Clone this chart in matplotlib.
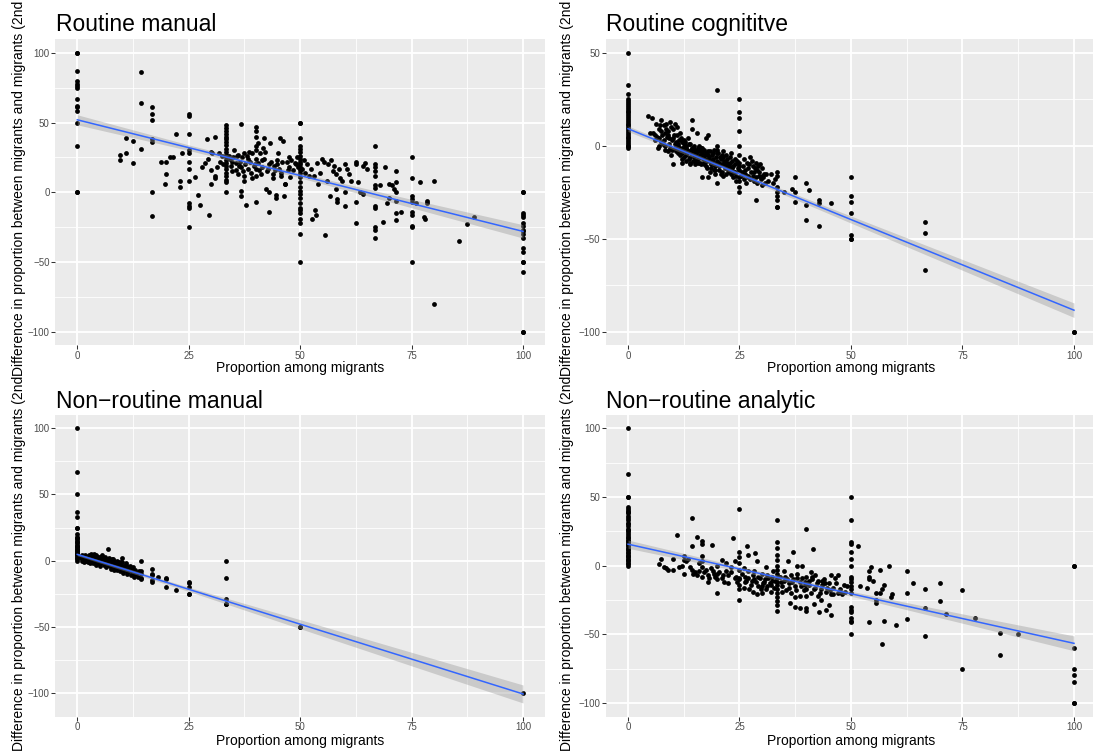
import numpy as np
import matplotlib
matplotlib.use("Agg")
import matplotlib.pyplot as plt

plt.rcParams["font.family"] = ["Liberation Sans", "DejaVu Sans"]

# ---------------------------------------------------------------------------
# Data: (proportion among migrants, difference in proportion) per occupation
# ---------------------------------------------------------------------------
titles = ["Routine manual", "Routine cognititve",
          "Non\u2212routine manual", "Non\u2212routine analytic"]
x_label = "Proportion among migrants"
y_label = "Difference in proportion between migrants and migrants (2nd"

x_ticks = [0, 25, 50, 75, 100]
y_ticks_tl = [-100, -50, 0, 50, 100]
y_ticks_tr = [-100, -50, 0, 50]
y_ticks_bl = [-100, -50, 0, 50, 100]
y_ticks_br = [-100, -50, 0, 50, 100]

# linear smooth (fit and 95% band half-width) at these x positions
smooth_x = [0, 25, 50, 75, 100]
fit_tl = [52.0, 32.0, 12.0, -8.1, -28.1]
band_tl = [3.6, 2.0, 1.7, 3.0, 4.8]
fit_tr = [9.2, -15.2, -39.7, -64.1, -88.5]
band_tr = [1.5, 1.0, 1.9, 2.9, 3.9]
fit_bl = [4.7, -21.65, -48.0, -74.35, -100.7]
band_bl = [1.0, 1.6, 3.4, 5.1, 6.8]
fit_br = [15.6, -2.45, -20.5, -38.55, -56.6]
band_br = [3.0, 1.7, 1.8, 3.4, 5.4]

routine_manual = [
    (0, 100), (0, 100), (0, 87), (0, 80), (0, 78), (0, 76), (0, 75), (0, 67), (0, 62),
    (0, 61), (0, 58), (0, 50), (0, 33), (0, 0), (0, 0),
    (9.5, 27), (9.5, 23), (11, 39), (11, 28), (12.5, 37), (12.5, 21), (14.3, 86),
    (14.3, 64), (14.3, 31), (16.7, 61), (16.7, 56), (16.7, 52), (16.7, 38), (16.7, 36),
    (16.7, 0), (16.7, -17), (18.8, 22), (19.6, 6), (20, 22), (20, 13), (20.8, 25),
    (21.4, 25), (22.2, 42), (23, 8), (23, 4), (23.5, 28),
    (25, 56), (25, 55), (25, 42), (25, 30), (25, 28), (25, 22), (25, 17), (25, 8),
    (25, -8), (25, -10), (25, -11), (25, -25),
    (26.5, 11), (27, -2), (27.5, -9), (28, 18), (28.6, 21), (29, 38), (29.4, 24),
    (29.6, -16), (30, 29), (30, 16), (30, 6), (30.3, 28), (30.8, 40), (30.8, 12),
    (31, 10), (31.3, 18), (31.8, 28), (32, 22), (32.5, 26), (32.8, 20),
    (33.3, 48), (33.3, 46), (33.3, 44), (33.3, 42), (33.3, 40), (33.3, 38), (33.3, 36),
    (33.3, 34), (33.3, 31), (33.3, 29), (33.3, 27), (33.3, 25), (33.3, 23), (33.3, 21),
    (33.3, 19), (33.3, 17), (33.3, 14), (33.3, 12), (33.3, 9), (33.3, 7), (33.3, 0),
    (34, 26), (34.2, 24), (34.5, 19), (34.8, 15), (35, 25), (35.2, 30), (35.5, 21),
    (35.7, 16), (36, 13), (36, 27), (36.4, 22), (36.8, 49), (36.8, 18), (36.8, 1),
    (36.8, -3), (37, 25), (37.3, 28), (37.5, 12), (37.5, 8), (37.6, 20), (37.9, -9),
    (38, 26), (38.2, 17), (38.5, 29), (38.8, 22), (39, 14), (39.3, 28), (39.6, 19),
    (40, 47), (40, 44), (40, 40), (40, 33), (40, 30), (40, 24), (40, 17), (40, 12),
    (40, -7), (40.5, 35), (40.5, 21), (40.8, 16), (41, 28), (41.2, 13), (41.5, 18),
    (41.7, 32), (42, 24), (42, 39), (42.3, 2), (42.8, 17), (43, 20), (43, 0), (43, -14),
    (43.3, 35), (43.5, 22), (43.8, 13), (44, 10), (44.4, 16), (44.5, -2), (44.5, -4),
    (44.8, 23), (45, 28), (45.2, 17), (45.5, 39), (45.8, 14), (46, 22), (46.2, 37),
    (46.4, -3), (46.5, 6), (46.7, 6), (47, 22), (47.4, 18), (47.8, 11), (48, 23),
    (48.5, 16), (49, 20), (49.3, 25), (49.6, 18),
    (34.6, 22), (35.9, 26), (37.2, 15), (38.4, 24), (39.8, 20), (41.4, 23), (42.6, 15),
    (44.1, 19), (45.6, 12), (47.2, 16), (48.8, 21), (36.2, 19), (39.1, 10), (42.2, 29),
    (44.9, 20), (47.6, 25),
    (50, 50), (50, 50), (50, 39), (50, 33), (50, 31), (50, 29), (50, 26), (50, 24),
    (50, 22), (50, 20), (50, 18), (50, 16), (50, 14), (50, 11), (50, 7), (50, 4),
    (50, 1), (50, -1), (50, -4), (50, -8), (50, -11), (50, -13), (50, -15), (50, -19),
    (50, -22), (50, -30), (50, -50),
    (50.5, 17), (50.8, 23), (51, 14), (51.5, 20), (52, 12), (52.5, 17), (52.7, -19),
    (53, 12), (53.3, -13), (53.5, -16), (53.8, 21), (54, 6), (54.5, 14), (55, 24),
    (55.3, 22), (55.6, -31), (56, 8), (56.3, 20), (56.8, -3), (57, 23), (57.4, 15),
    (57.7, 19), (58, 13), (58, 2), (58.3, -5), (58.3, -7), (58.8, 17), (59, 10),
    (59.4, 8), (60, 20), (60, 0), (60, -10), (60.5, 17), (61, 13), (61.5, 8),
    (62.5, 22), (62.5, 20), (62.5, -7), (62.5, -22), (63, 7), (63.5, 0), (64, 19),
    (64, -1), (64.5, 21), (65, 17),
    (66.7, 33), (66.7, 20), (66.7, 18), (66.7, 15), (66.7, 12), (66.7, 5), (66.7, 3),
    (66.7, -10), (66.7, -11), (66.7, -25), (66.7, -27), (66.7, -33),
    (68, 5), (68.5, -21), (69, 18), (69.5, -8), (70, 6), (70, -4), (70.5, 5), (71, 2),
    (71.4, 15), (71.4, 7), (71.4, 0), (71.4, -6), (71.4, -15), (71.4, -20), (72.7, -14),
    (75, 25), (75, 10), (75, -3), (75, -5), (75, -7), (75, -14), (75, -16), (75, -24),
    (75, -25), (75, -50),
    (76, -8), (76.9, 7), (77.8, -18), (78, -19), (78.5, -6), (78.5, -8), (80, 8),
    (80, -80), (85.7, -35), (87.5, -23), (88.9, -18),
    (100, 0), (100, 0), (100, -15), (100, -16), (100, -18), (100, -22), (100, -24),
    (100, -27), (100, -28), (100, -30), (100, -33), (100, -40), (100, -43), (100, -50),
    (100, -50), (100, -57), (100, -100), (100, -100),
]

routine_cognitive = [
    (0, 50), (0, 33), (0, 28), (0, 25), (0, 24), (0, 23), (0, 22), (0, 21), (0, 20),
    (0, 19), (0, 18), (0, 17), (0, 16), (0, 15), (0, 14), (0, 13), (0, 12), (0, 11),
    (0, 10), (0, 9), (0, 8), (0, 7), (0, 6), (0, 5), (0, 4), (0, 3), (0, 2), (0, 1),
    (0, 0), (0, 0), (0, -1),
    (4.5, 16), (5, 7), (5.5, 7), (6, 3), (6.3, 12), (6.6, 5), (7, 9), (7, 0), (7.3, 2),
    (7.5, 14), (7.7, 6), (8, 11), (8, 3), (8.2, -2), (8.5, 12), (8.7, 5), (9, -3), (9, 8),
    (9.2, 1), (9.5, 13), (9.7, -5), (10, 4), (10, -10), (10.2, 9), (10.5, 12), (10.5, -1),
    (10.8, 2), (11, 10), (11, 6), (11, -3), (11.3, 0), (11.5, 3), (11.8, -2), (12, -4),
    (12, 2), (12.3, -1), (12.5, -6), (12.5, 1), (12.7, -3), (13, -5), (13, 0), (13.3, -2),
    (13.5, 4), (13.7, -7), (14, -3), (14, 1), (14.3, 14), (14.3, 9), (14.3, -4),
    (14.5, -1), (14.8, -6), (15, -2), (15, -8), (15.3, -4), (15.4, 7), (15.6, -1),
    (15.8, -9), (16, -3), (16, -6), (16.3, -10), (16.5, -4), (16.7, -1), (16.7, -17),
    (16.9, -7), (17, -2), (17.2, -5), (17.5, -11), (17.6, 4), (17.8, -8), (18, 6),
    (18, -3), (18.2, -6), (18.5, -10), (18.7, -12), (19, -7), (19, -4), (19.3, -2),
    (19.5, -13), (19.7, -9), (20, 30), (20, 0), (20, -8), (20, -20), (20.3, -11),
    (20.6, -6), (21, -14), (21, -10), (21.3, -3), (21.5, -8), (21.8, -12), (22, -15),
    (22, -5), (22.3, -9), (22.6, -11), (23, -4), (23, -13), (23.3, -8), (23.6, -17),
    (24, -10), (24, -14), (24.3, -19), (24.6, -12),
    (5.3, 15), (6.8, -1), (7.4, 8), (8.4, 0), (8.9, 6), (9.4, -1), (9.8, 3), (10.4, 6),
    (10.7, -3), (11.2, 1), (11.6, -5), (11.9, 4), (12.2, -7), (12.6, 3), (12.9, -1),
    (13.2, -4), (13.6, 1), (13.9, -6), (14.2, -2), (14.6, -8), (14.9, 0), (15.2, -5),
    (15.5, -3), (15.8, -6), (16.1, -9), (16.4, -1), (16.8, -6), (17.1, -9), (17.4, -4),
    (17.7, -12), (18.1, -7), (18.4, -14), (18.8, -5), (19.1, -10), (19.4, -15),
    (19.8, -6), (20.2, -4), (20.5, -13), (20.9, -7), (21.2, -16), (21.6, -10),
    (22.1, -7), (22.4, -13), (22.8, -9), (23.2, -15), (23.5, -11), (23.9, -7),
    (24.2, -16), (24.7, -9), (12.4, -3), (13.1, -8), (15.1, -10), (16.2, -5),
    (17.3, -7), (18.6, -9), (19.6, -11), (21.4, -6), (22.7, -14), (11.4, -1),
    (6.1, 6), (6.9, 4), (7.9, 1), (8.6, 9), (9.3, 4), (9.9, -2), (10.6, 1), (11.1, -4),
    (11.7, 7), (12.1, -1), (12.8, 2), (13.4, -3), (13.8, -9), (14.4, -1), (14.7, -4),
    (15.6, -7), (16, 0), (16.6, -2), (17, -10), (17.9, -5), (18.3, -3), (18.9, -8),
    (19.2, -13), (19.9, -4), (20.4, -9), (20.8, -15), (21.1, -5), (21.7, -9),
    (22.2, -11), (22.9, -6), (23.4, -12), (23.8, -14), (24.4, -8), (24.9, -11),
    (20, -2), (18, -17), (14, -10), (12, -9), (9.6, 10), (8.2, 7), (7.2, 11),
    (25, 25), (25, 18), (25, 15), (25, 8), (25, 0), (25, -5), (25, -9), (25, -13),
    (25, -17), (25, -19), (25, -22), (25, -25),
    (25.5, -14), (25.8, -11), (26, -18), (26.3, -15), (26.6, -9), (27, -12), (27, -17),
    (27.3, -6), (27.6, -14), (28, -16), (28, -11), (28.3, -19), (28.6, -9), (28.6, -29),
    (29, -13), (29, -20), (29.3, -16), (29.6, -10), (30, -12), (30, -21), (30.5, -15),
    (26.2, -13), (26.8, -16), (27.2, -10), (27.8, -8), (28.2, -14), (28.8, -17),
    (29.2, -11), (29.8, -18), (30.3, -17), (31, -15), (31.5, -19),
    (25.3, -16), (25.9, -7), (26.4, -20), (27.4, -18), (28.4, -12), (29.4, -14),
    (30.1, -16), (30.7, -20),
    (32, -15), (32.5, -20), (33, -18), (33.3, -14), (33.3, -16), (33.3, -22), (33.3, -25),
    (33.3, -27), (33.3, -29), (33.3, -33), (33.3, -33), (35, -25), (36.8, -23),
    (37.5, -17), (37.5, -25), (37.5, -30), (40, -20), (40, -32), (40, -40), (40.5, -24),
    (42.9, -29), (42.9, -31), (42.9, -43), (45.5, -31),
    (50, -17), (50, -27), (50, -30), (50, -36), (50, -48), (50, -50), (50, -50),
    (66.7, -41), (66.7, -47), (66.7, -67), (100, -100), (100, -100),
]

nonroutine_manual = [
    (0, 100), (0, 67), (0, 50), (0, 37), (0, 33), (0, 25), (0, 25), (0, 20), (0, 18),
    (0, 17), (0, 16), (0, 15), (0, 14), (0, 13), (0, 12), (0, 11), (0, 10), (0, 10),
    (0, 9), (0, 8), (0, 8), (0, 7), (0, 6), (0, 6), (0, 5), (0, 5), (0, 4), (0, 4),
    (0, 3), (0, 2), (0, 1), (0, 0),
    (0.8, 2), (1, 4), (1, 0), (1.3, 3), (1.5, 1), (1.5, -1), (1.8, 4), (2, 2), (2, 0),
    (2.3, 3), (2.3, -1), (2.5, 1), (2.6, 4), (2.8, -2), (3, 2), (3, 5), (3.2, 0),
    (3.4, 3), (3.5, -2), (3.7, 1), (3.8, 5), (4, 2), (4, -1), (4.2, 4), (4.3, -3),
    (4.5, 1), (4.6, 3), (4.8, -2), (5, 0), (5, 3), (5.2, -4), (5.4, 2), (5.5, -1),
    (5.6, 4), (5.8, 1), (6, -3), (6, 0), (6.2, 3), (6.3, -2), (6.5, -5), (6.6, 1),
    (6.8, -1), (7, 9), (7, -3), (7.1, 2), (7.3, -4), (7.5, 0), (7.6, -6), (7.8, -2),
    (8, 1), (8, -4), (8.2, -7), (8.4, -1), (8.5, -3), (8.7, -5), (9, 0), (9, -7),
    (9.2, -2), (9.4, -5), (9.6, -8), (9.8, -3), (10, 2), (10, -1), (10, -6), (10.3, -9),
    (10.5, -4), (10.7, -7), (11, -2), (11.1, -10), (11.3, -6), (11.5, -8), (11.8, -4),
    (12, -11), (12.2, -6), (12.5, -9), (12.8, -12), (13, -7), (13.3, -9), (13.8, -8),
    (2.1, 1), (3.3, -1), (4.4, 0), (5.3, 1), (6.1, -1), (7.2, -2), (8.1, -3), (9.1, -4),
    (3.9, 3), (5.9, 2),
    (1.1, 2), (1.6, 3), (2.4, 0), (2.9, 3), (3.1, -1), (3.6, 4), (4.1, 1), (4.9, 2),
    (5.1, -2), (5.7, -1), (6.4, 0), (6.9, -2), (7.4, -1), (7.9, -4), (8.6, -2),
    (8.9, -6), (9.3, -1), (9.9, -5), (10.6, -6), (10.9, -3), (11.6, -5), (12.1, -7),
    (12.6, -5), (13.1, -10), (13.6, -12), (2.7, 2), (4.7, -1), (6.7, -3), (8.3, 0),
    (3.3, 4), (5.3, 3), (7.7, 1), (9.7, -1), (11.2, -8), (12.4, -10),
    (14.3, 0), (14.3, -8), (14.3, -10), (14.3, -13), (14.3, -14),
    (16.7, -6), (16.7, -10), (16.7, -11), (16.7, -15), (16.7, -16), (18.2, -12),
    (20, -13), (20, -14), (20, -20), (22.2, -22),
    (25, -16), (25, -17), (25, -20), (25, -25), (25, -25),
    (33.3, 0), (33.3, -13), (33.3, -29), (33.3, -33), (33.3, -33),
    (50, -50), (50, -50), (100, -100),
]

nonroutine_analytic = [
    (0, 100), (0, 67), (0, 50), (0, 50), (0, 43), (0, 41), (0, 40), (0, 39), (0, 38),
    (0, 36), (0, 35), (0, 33), (0, 31), (0, 30), (0, 29), (0, 27), (0, 26), (0, 25),
    (0, 24), (0, 22), (0, 21), (0, 20), (0, 19), (0, 18), (0, 17), (0, 16), (0, 15),
    (0, 14), (0, 13), (0, 12), (0, 11), (0, 10), (0, 9), (0, 8), (0, 7), (0, 6),
    (0, 5), (0, 4), (0, 3), (0, 2), (0, 1), (0, 0),
    (7, 1), (7.5, 5), (8, -1), (8.5, -2), (9, -3), (10, 5), (10, -3), (11, 22),
    (11.5, -1), (12, 0), (12.5, 7), (12.5, 4), (12.5, -6), (13, 3), (13.5, 5), (14, -1),
    (14.3, 35), (14.3, 14), (14.3, -3), (14.5, -6), (15, -5), (15.5, -7), (15.5, 21),
    (16, 2), (16, -4), (16.7, 18), (16.7, 16), (16.7, 7), (16.7, 3), (16.7, -1),
    (16.7, -8), (17, -5), (17.5, -3), (18, -12), (18, -7), (18.5, -2), (18.8, 15),
    (19, -4), (19.5, -8), (20, 0), (20, -6), (20, -10), (20, -20), (20.5, -5), (21, 4),
    (21, -9), (21.5, -12), (22, 2), (22, -4), (22.5, -7), (22.5, -13), (23, -1),
    (23.5, 20), (24, 3), (24, -9), (24.5, -12),
    (25, 41), (25, 10), (25, 6), (25, 2), (25, -3), (25, -9), (25, -10), (25, -14),
    (25, -17), (25, -25),
    (25.5, -6), (26, -2), (26, -16), (26.5, -11), (26.7, 14), (27, -4), (27, -9),
    (27, 8), (27.5, -14), (28, -7), (28, -19), (28.5, 9), (28.6, -12), (29, 3),
    (29, -21), (29.5, -9), (30, -6), (30, -15), (30, -20), (30.5, -12), (31, -17),
    (31, -1), (31.5, -9), (32, -14), (32, -19), (32.5, -4), (33, -11),
    (26.2, -8), (27.8, -11), (29.2, -15), (30.8, -10), (31.8, -13), (32.8, -16),
    (28.3, -4), (29.8, -17), (31.2, -7), (32.3, -11),
    (18.2, -9), (19.2, -6), (21.2, -7), (23.2, -5), (24.2, -8), (26.2, -12),
    (27.2, -17), (28.2, -10), (29.2, -8), (30.2, -13), (31.2, -15), (32.2, -8),
    (33.3, 33), (33.3, 17), (33.3, 13), (33.3, 8), (33.3, 4), (33.3, 0), (33.3, -3),
    (33.3, -6), (33.3, -9), (33.3, -12), (33.3, -14), (33.3, -17), (33.3, -20),
    (33.3, -23), (33.3, -26), (33.3, -29), (33.3, -33),
    (34, -8), (34.5, -15), (35, -11), (35, -4), (35.5, -18), (35.8, 3), (36, -13),
    (36.4, -27), (36.5, -7), (37, -10), (37, 10), (37.5, -15), (37.5, -30), (37.5, -23),
    (38, 0), (38, -6), (38.5, -12), (38.5, -31), (39, 0), (39, -9), (39.5, -18),
    (34.3, -12), (35.3, -8), (36.2, -16), (36.8, -12), (37.8, -9), (38.8, -15),
    (39.7, -12), (40.6, -14), (41.3, -10), (42.3, -13), (43.3, -17), (44.2, -13),
    (34.6, -19), (35.6, -10), (36.6, -20), (37.6, -18), (38.6, -22), (39.6, -14),
    (41.6, -17), (42.6, -22), (43.6, -11), (44.6, -16), (45.6, -21), (46.6, -13),
    (47.6, -17), (48.6, -19), (49.2, -15), (41.2, -8), (43.2, -25), (45.2, -18),
    (40, 27), (40, -8), (40, -13), (40, -17), (40, -22), (40, -31), (40, -33),
    (40.5, -11), (41, -20), (41, -5), (41.5, 12), (41.7, -28), (42, -7), (42, -16),
    (42.5, -11), (42.9, -34), (43, -20), (43.5, -14), (44, -10), (44.4, -19),
    (44.5, -32), (45, -29), (45, -13), (45.5, -7), (45.5, -36), (46, -16), (46, -21),
    (46.5, -9), (47, -7), (47, -20), (47.5, -19), (48, -21), (48.5, -14),
    (50, 50), (50, 33), (50, 17), (50, 16), (50, 10), (50, 5), (50, 0), (50, -8),
    (50, -10), (50, -12), (50, -15), (50, -17), (50, -20), (50, -30), (50, -32),
    (50, -34), (50, -38), (50, -40), (50, -41), (50, -50),
    (51.5, 14), (52, -15), (53.5, -16), (54, -4), (54, -8), (54, -10), (54, -41),
    (54.5, -1), (55, -11), (55.5, -20), (55.5, -25), (55.5, -27), (56.5, -3),
    (56.5, -20), (57, -17), (57.3, -14), (57.3, -40), (57, -57), (58.5, 0), (59, -23),
    (59.3, -21), (60, -43), (62.5, -4), (62.5, -20), (62.5, -39), (64, -13),
    (66.7, -17), (66.7, -31), (66.7, -51), (70, -13), (70, -26), (71.4, -35),
    (75, -18), (75, -75), (77.8, -38), (83.3, -49), (83.3, -65), (87.5, -50),
    (100, 0), (100, 0), (100, -60), (100, -75), (100, -80), (100, -85), (100, -100),
    (100, -100),
]

panels = [routine_manual, routine_cognitive, nonroutine_manual, nonroutine_analytic]
fits = [fit_tl, fit_tr, fit_bl, fit_br]
bands = [band_tl, band_tr, band_bl, band_br]
y_tick_sets = [y_ticks_tl, y_ticks_tr, y_ticks_bl, y_ticks_br]

# ---------------------------------------------------------------------------
# Figure geometry in pixels (origin top-left)
# ---------------------------------------------------------------------------
W, H = 1093, 755
DPI = 100
fig = plt.figure(figsize=(W / DPI, H / DPI), dpi=DPI)
fig.patch.set_facecolor("white")

# panel boxes: left, top, right, bottom
boxes = [
    (55.0, 39.0, 545.3, 345.5),
    (605.7, 39.0, 1096.3, 345.5),
    (55.0, 414.5, 545.3, 716.7),
    (605.7, 414.5, 1096.3, 716.7),
]
ylab_x = [23.5, 570.5, 23.5, 570.5]
ylab_start = [376, 376, 751, 751]
title_base = [31, 31, 408, 408]
xlab_base = [372, 372, 745, 745]

BG = "#EBEBEB"


def px_to_fig(x, y):
    return x / W, 1 - y / H


for i, pts in enumerate(panels):
    arr = np.array(pts, dtype=float)
    x, y = arr[:, 0], arr[:, 1]
    sx = np.array(smooth_x, dtype=float)
    fit = np.array(fits[i], dtype=float)
    half = np.array(bands[i], dtype=float)
    lo, hi = fit - half, fit + half

    l, t, r, b = boxes[i]
    ax = fig.add_axes([l / W, 1 - b / H, (r - l) / W, (b - t) / H])
    ax.set_facecolor(BG)
    for sp in ax.spines.values():
        sp.set_visible(False)

    # axis limits with ggplot-style 5% expansion around data and band
    xmin, xmax = x.min(), x.max()
    xpad = 0.05 * (xmax - xmin)
    ax.set_xlim(xmin - xpad, xmax + xpad)
    ymin = min(y.min(), lo.min())
    ymax = max(y.max(), hi.max())
    ypad = 0.05 * (ymax - ymin)
    ax.set_ylim(ymin - ypad, ymax + ypad)

    yt = y_tick_sets[i]
    ax.set_xticks(x_ticks)
    ax.set_yticks(yt)
    ax.set_xticks([v + 12.5 for v in x_ticks[:-1]], minor=True)
    ax.set_yticks([v + 25 for v in yt[:-1]], minor=True)
    ax.set_xticklabels([str(v) for v in x_ticks])
    ax.set_yticklabels([str(v).replace("-", "\u2212") for v in yt])
    ax.grid(which="major", color="white", linewidth=1.3)
    ax.grid(which="minor", color="white", linewidth=0.6)
    ax.set_axisbelow(True)
    ax.tick_params(which="major", length=2.75, width=0.75, color="#333333",
                   labelsize=7, labelcolor="#4D4D4D", pad=1.2)
    ax.tick_params(which="minor", length=0)

    ax.scatter(x, y, s=12, color="black", linewidths=0, zorder=3)
    ax.fill_between(sx, lo, hi, color="#999999", alpha=0.4, linewidth=0, zorder=4)
    ax.plot(sx, fit, color="#3366FF", linewidth=1.1, zorder=5)

    # panel title
    tx, ty = px_to_fig(l + 0.5, title_base[i])
    fig.text(tx, ty, titles[i], fontsize=16.5, ha="left", va="baseline", color="black")

    # x axis title
    ax_x, ax_y = px_to_fig((l + r) / 2, xlab_base[i])
    fig.text(ax_x, ax_y, x_label, fontsize=10, ha="center", va="baseline", color="black")

    # y axis title
    yx, yy = px_to_fig(ylab_x[i], ylab_start[i])
    fig.text(yx, yy, y_label, fontsize=10, rotation=90, rotation_mode="anchor",
             ha="left", va="baseline", color="black")

fig.savefig("out.png", dpi=DPI, facecolor="white")
